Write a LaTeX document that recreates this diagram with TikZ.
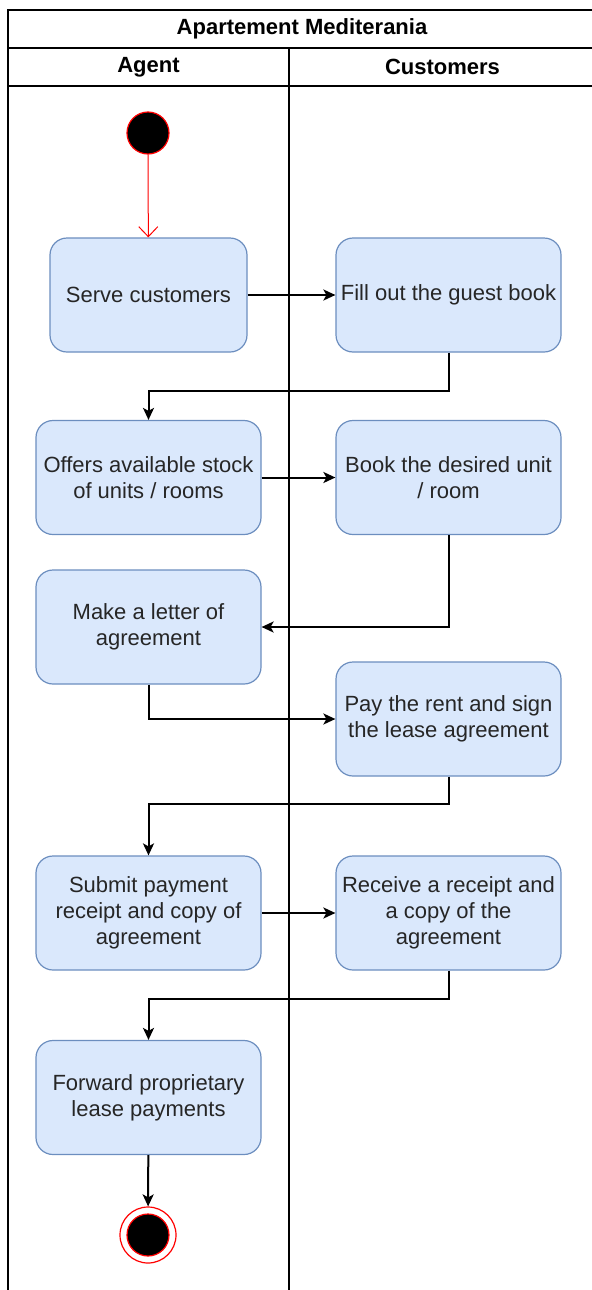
\documentclass[tikz,border=0pt]{standalone}
\usepackage{fontspec}
\setmainfont{Liberation Sans}
\usepackage{tikz}
\usepackage{xcolor}
\usetikzlibrary{arrows,arrows.meta}
\usetikzlibrary{shapes,backgrounds}

\definecolor{boxfill}{HTML}{DAE8FC}
\definecolor{boxline}{HTML}{6C8EBF}

\begin{document}
\begin{tikzpicture}[x=0.5pt,y=-0.5pt,->,>={Stealth[length=6pt,width=5.5pt,inset=1.5pt]},line width=1pt,node distance=150pt,
                    font=\fontsize{11}{13}\selectfont,
                    act node/.style={rectangle,rounded corners=8.5pt,draw=boxline,fill=boxfill,line width=0.6pt,
                                     minimum width=112.5pt,minimum height=57pt,inner sep=2pt,align=center,text=black!85},
                    start node/.style={circle,draw=red,fill=black,minimum size=21pt,inner sep=0pt,line width=0.6pt},
                    lane/.style={-,draw=black,line width=1pt}]

  \useasboundingbox (0,0) rectangle (591,1290);

  % swimlanes
  \draw[lane] (8,10) rectangle (610,1300);
  \draw[lane] (8,48) -- (610,48);
  \draw[lane] (8,86) -- (610,86);
  \draw[lane] (289,48) -- (289,1300);
  \node[font=\fontsize{11}{13}\selectfont\bfseries] (title) at (302,29) {Apartement Mediterania};
  \node[font=\fontsize{11}{13}\selectfont\bfseries] (agent) at (148.5,67) {Agent};
  \node[font=\fontsize{11}{13}\selectfont\bfseries] (cust) at (442.5,67) {Customers};

  % activities
  \node[start node] (start) at (148,133) {};
  \node[act node,minimum width=98.5pt] (serve) at (148.5,295) {Serve customers};
  \node[act node] (guest) [right of=serve] {Fill out the guest book};
  \node[act node] (offer) at (148.5,477.5) {Offers available stock\\of units / rooms};
  \node[act node] (book) [right of=offer] {Book the desired unit\\/ room};
  \node[act node] (letter) at (148.5,627) {Make a letter of\\agreement};
  \node[act node] (pay) at (448.5,719) {Pay the rent and sign\\the lease agreement};
  \node[act node] (submit) at (148.5,913) {Submit payment\\receipt and copy of\\agreement};
  \node[act node] (receipt) [right of=submit] {Receive a receipt and\\a copy of the\\agreement};
  \node[act node] (forward) at (148.5,1097.5) {Forward proprietary\\lease payments};
  \node[circle,draw=red,line width=0.6pt,minimum size=28pt,inner sep=0pt] (end) at (148,1235) {};
  \node[start node] (endcore) at (end) {};

  \draw[red,line width=0.5pt,>={Straight Barb[length=5pt,width=9.5pt]}] (start) -- (serve);

  \path (serve) edge (guest)
        (offer) edge (book)
        (submit) edge (receipt);

  \draw (guest.south) -- ++(0,38) -| (offer.north);
  \draw (book.south) |- (letter.east);
  \draw (letter.south) |- (pay.west);
  \draw (pay.south) -- ++(0,27) -| (submit.north);
  \draw (receipt.south) -- ++(0,28) -| (forward.north);
  \draw (forward) -- (end);
\end{tikzpicture}
\end{document}
